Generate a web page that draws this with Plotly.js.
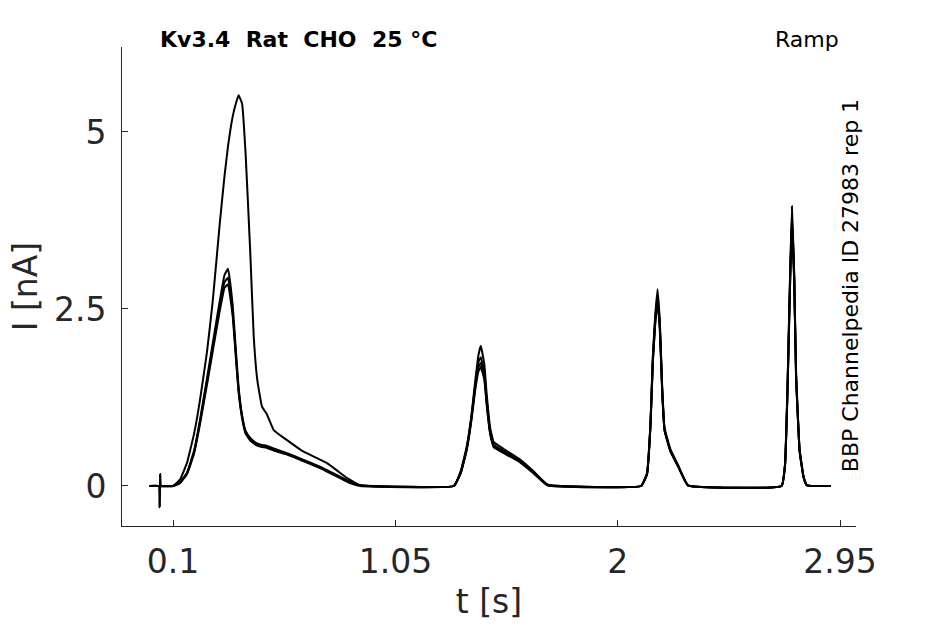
<!DOCTYPE html>
<html>
<head>
<meta charset="utf-8">
<script src="https://cdn.plot.ly/plotly-3.0.1.min.js"></script>
<style>
  html, body { margin: 0; padding: 0; background: #fff; }
  #chart { width: 945px; height: 624px; }
</style>
</head>
<body>
<div id="chart"></div>
<script>
// time samples [s], shared by all repeats
const t = [
  0, 0.04, 0.043, 0.045, 0.048, 0.1, 0.13, 0.16, 0.19, 0.215, 0.245, 0.27, 0.30, 0.32, 0.335,
  0.355, 0.37, 0.38, 0.395, 0.41, 0.43, 0.445, 0.46, 0.48, 0.50, 0.53, 0.59, 0.65, 0.73, 0.76,
  0.82, 0.85, 0.90,
  1.30, 1.33, 1.355, 1.375, 1.39, 1.405, 1.415, 1.43, 1.44, 1.455, 1.47, 1.51, 1.58, 1.64, 1.70,
  2.10, 2.125, 2.14, 2.15, 2.16, 2.17, 2.18, 2.19, 2.20, 2.225, 2.26, 2.30,
  2.70, 2.715, 2.725, 2.735, 2.744, 2.754, 2.762, 2.777, 2.794, 2.808, 2.91
];

// current [nA] for each repeat
const repA = [
  0, 0, -0.30, 0.17, 0, 0, 0.09, 0.33, 0.74, 1.21, 1.89, 2.62, 3.72, 4.38, 4.80,
  5.22, 5.42, 5.52, 5.40, 4.70, 3.30, 2.10, 1.50, 1.12, 1.02, 0.79, 0.64, 0.50, 0.37, 0.32,
  0.17, 0.10, 0.01,
  0, 0.22, 0.56, 1.00, 1.45, 1.85, 1.98, 1.72, 1.30, 0.82, 0.62, 0.53, 0.38, 0.21, 0.02,
  0, 0.18, 0.90, 1.84, 2.40, 2.78, 2.32, 1.40, 0.82, 0.52, 0.28, 0.01,
  0, 0.32, 1.36, 2.80, 3.95, 3.00, 1.60, 0.52, 0.13, 0.01, 0
];
const repB = [
  0, 0, -0.30, 0.17, 0, 0, 0.05, 0.19, 0.50, 0.93, 1.52, 2.02, 2.62, 2.98, 3.07,
  2.55, 1.85, 1.40, 1.00, 0.78, 0.68, 0.63, 0.60, 0.58, 0.57, 0.53, 0.46, 0.38, 0.27, 0.22,
  0.12, 0.07, 0.01,
  0, 0.20, 0.54, 0.97, 1.40, 1.75, 1.82, 1.60, 1.22, 0.78, 0.58, 0.50, 0.36, 0.20, 0.02,
  0, 0.17, 0.88, 1.80, 2.35, 2.70, 2.26, 1.36, 0.80, 0.50, 0.27, 0.01,
  0, 0.31, 1.33, 2.74, 3.85, 2.95, 1.57, 0.51, 0.13, 0.01, 0
];
const repC = [
  0, 0, 0, 0, 0, 0, 0.05, 0.18, 0.48, 0.90, 1.47, 1.96, 2.55, 2.88, 2.94,
  2.45, 1.78, 1.36, 0.98, 0.76, 0.66, 0.61, 0.58, 0.56, 0.55, 0.51, 0.45, 0.37, 0.26, 0.21,
  0.11, 0.06, 0.01,
  0, 0.19, 0.52, 0.95, 1.36, 1.68, 1.74, 1.55, 1.18, 0.75, 0.56, 0.48, 0.35, 0.19, 0.01,
  0, 0.17, 0.86, 1.76, 2.30, 2.64, 2.22, 1.34, 0.79, 0.50, 0.27, 0.01,
  0, 0.30, 1.30, 2.70, 3.78, 2.92, 1.55, 0.50, 0.12, 0.01, 0
];
const repD = [
  0, 0, 0, 0, 0, 0, 0.04, 0.17, 0.46, 0.87, 1.43, 1.91, 2.48, 2.80, 2.85,
  2.40, 1.75, 1.33, 0.96, 0.74, 0.64, 0.60, 0.57, 0.55, 0.54, 0.50, 0.44, 0.36, 0.25, 0.20,
  0.10, 0.05, 0,
  0, 0.19, 0.51, 0.93, 1.33, 1.62, 1.68, 1.50, 1.15, 0.73, 0.55, 0.47, 0.34, 0.18, 0.01,
  0, 0.16, 0.85, 1.74, 2.28, 2.60, 2.20, 1.33, 0.78, 0.49, 0.26, 0.01,
  0, 0.30, 1.28, 2.66, 3.72, 2.88, 1.53, 0.49, 0.12, 0.01, 0
];

const xTicks = [0.1, 1.05, 2, 2.95];
const xTickText = ['0.1', '1.05', '2', '2.95'];
const yTicks = [0, 2.5, 5];
const yTickText = ['0', '2.5', '5'];

const axisColor = '#262626';
const traces = [repA, repB, repC, repD].map((y, i) => ({
  type: 'scatter', mode: 'lines', x: t, y: y, name: 'rep ' + (i + 1),
  line: { color: '#000', width: 2, shape: 'spline', smoothing: 0.3 }, hoverinfo: 'skip'
}));

const layout = {
  width: 945, height: 624,
  margin: { l: 122, r: 89, t: 47, b: 98 },
  paper_bgcolor: '#fff', plot_bgcolor: '#fff',
  showlegend: false,
  font: { family: 'DejaVu Sans', color: axisColor },
  xaxis: {
    range: [-0.118, 3.018], showgrid: false, zeroline: false,
    showline: true, linecolor: axisColor, linewidth: 1,
    ticks: 'inside', ticklen: 6, tickcolor: axisColor,
    tickvals: xTicks, ticktext: xTickText, ticklabelstandoff: 6,
    tickfont: { size: 33, color: axisColor },
    title: { text: 't [s]', font: { size: 33, color: axisColor }, standoff: 10 }
  },
  yaxis: {
    range: [-0.565, 6.2], showgrid: false, zeroline: false,
    showline: true, linecolor: axisColor, linewidth: 1,
    ticks: 'inside', ticklen: 6, tickcolor: axisColor,
    tickvals: yTicks, ticktext: yTickText, ticklabelstandoff: 8,
    tickfont: { size: 33, color: axisColor },
    title: { text: 'I [nA]', font: { size: 33, color: axisColor }, standoff: 6 }
  },
  annotations: [
    { xref: 'paper', yref: 'paper', x: 0.049, y: 1.015, xanchor: 'left', yanchor: 'middle',
      text: '<b>Kv3.4  Rat  CHO  25 °C</b>', showarrow: false,
      font: { family: 'DejaVu Sans', size: 22, color: '#000' } },
    { xref: 'paper', yref: 'paper', x: 0.9796, y: 1.015, xanchor: 'right', yanchor: 'middle',
      text: 'Ramp', showarrow: false,
      font: { family: 'DejaVu Sans', size: 22, color: '#000' } },
    { xref: 'paper', yref: 'paper', x: 0.992, y: 0.501, xanchor: 'center', yanchor: 'middle',
      text: 'BBP Channelpedia ID 27983 rep 1', textangle: -90, showarrow: false,
      font: { family: 'DejaVu Sans', size: 22, color: '#000' } }
  ]
};

Plotly.newPlot('chart', traces, layout, { staticPlot: true, displayModeBar: false });
</script>
</body>
</html>
